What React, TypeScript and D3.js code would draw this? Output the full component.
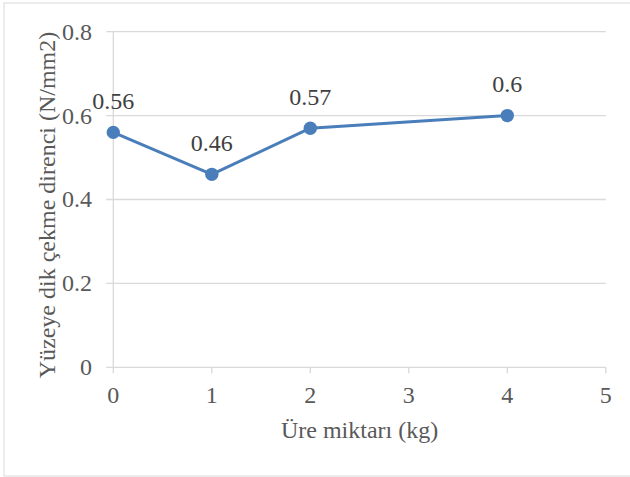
import React from "react";
import * as d3 from "d3";

const xValues = [0, 1, 2, 4];
const yValues = [0.56, 0.46, 0.57, 0.6];
const xTicks = [0, 1, 2, 3, 4, 5];
const yTicks = [0, 0.2, 0.4, 0.6, 0.8];
const xTitle = "Üre miktarı (kg)";
const yTitle = "Yüzeye dik çekme direnci (N/mm2)";

export default function App() {
  const W = 630, H = 477;
  const x = d3.scaleLinear().domain([0, 5]).range([113.3, 605.8]);
  const y = d3.scaleLinear().domain([0, 0.8]).range([367.3, 31.7]);
  const line = d3.line<number>().x((_, i) => x(xValues[i])).y((d) => y(d));
  const font = '"Liberation Serif", Tinos, "Times New Roman", serif';
  const ts = { fontFamily: font, fontSize: "24px" } as React.CSSProperties;
  const grid = "#d9d9d9";
  const textColor = "#595959";
  const blue = "#4a7ebb";
  return (
    <svg width={W} height={H} style={{ position: "absolute", left: 0, top: 0, display: "block" }}>
      <rect x={0} y={0} width={W} height={H} fill="#fff" />
      <rect x={4} y={3} width={W + 10} height={H - 4} fill="none" stroke="#d9d9d9" strokeWidth={1} />
      {yTicks.map((t) => (
        <g key={"y" + t}>
          <line x1={x(0) - 7} x2={x(5)} y1={y(t)} y2={y(t)} stroke={grid} strokeWidth={1.3} />
          <text x={92} y={y(t)} dy="0.33em" textAnchor="end" style={ts} fill={textColor}>
            {t === 0 ? "0" : t.toFixed(1)}
          </text>
        </g>
      ))}
      <line x1={x(0)} x2={x(0)} y1={y(0.8)} y2={y(0)} stroke={grid} strokeWidth={1.3} />
      {xTicks.map((t) => (
        <g key={"x" + t}>
          <line x1={x(t)} x2={x(t)} y1={y(0)} y2={y(0) + 6} stroke={grid} strokeWidth={1.3} />
          <text x={x(t)} y={402.7} textAnchor="middle" style={ts} fill={textColor}>
            {t}
          </text>
        </g>
      ))}
      <path d={line(yValues) || ""} fill="none" stroke={blue} strokeWidth={3} strokeLinejoin="round" />
      {yValues.map((v, i) => (
        <g key={"p" + i}>
          <circle cx={x(xValues[i])} cy={y(v)} r={6.7} fill={blue} />
          <text x={x(xValues[i])} y={y(v) - 23.6} textAnchor="middle" style={ts} fill="#404040">
            {String(v)}
          </text>
        </g>
      ))}
      <text x={(x(0) + x(5)) / 2} y={438} textAnchor="middle" style={ts} fill={textColor}>
        {xTitle}
      </text>
      <text transform={`translate(55, 205) rotate(-90)`} textAnchor="middle" style={ts} fill={textColor}>
        {yTitle}
      </text>
    </svg>
  );
}
